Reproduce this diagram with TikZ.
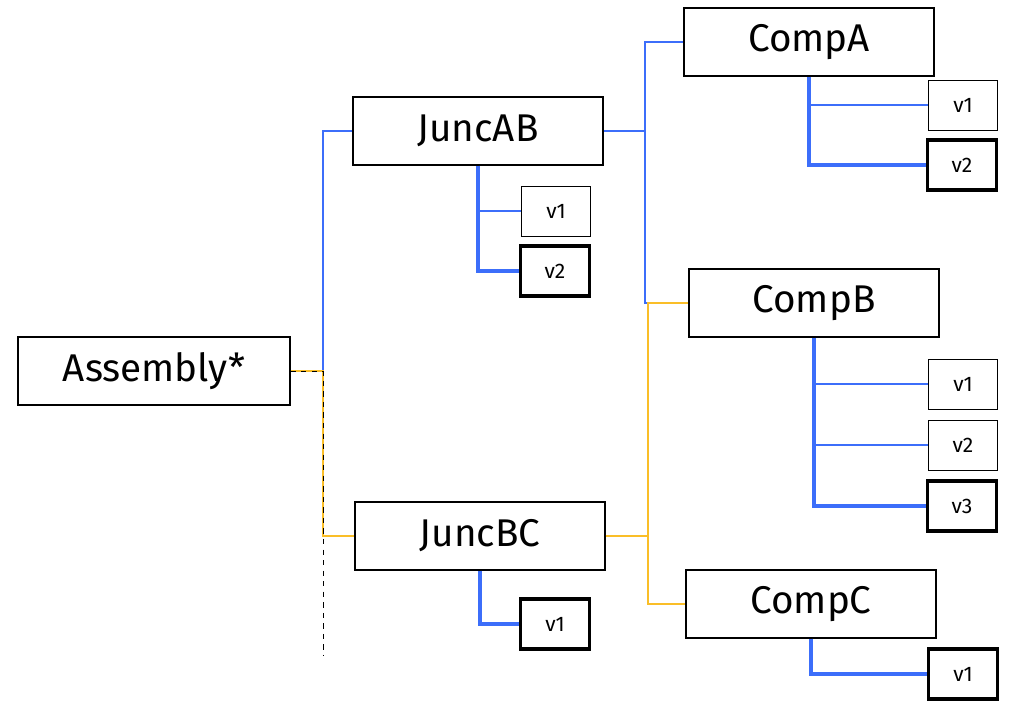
\documentclass[tikz,border=0pt]{standalone}
\usepackage{fontspec}
\setmainfont{Fira Sans}
\usetikzlibrary{positioning}
\definecolor{linkblue}{RGB}{60,110,250}
\definecolor{linkyellow}{RGB}{250,190,40}
\begin{document}
\begin{tikzpicture}[x=0.02cm,y=-0.02cm]

\tikzset{
    part/.style={
        draw,
        thick,
        minimum width=5cm,
        minimum height=1.36cm,
        font=\fontsize{22}{24}\selectfont,
    },
    ver/.style={
        draw,
        minimum width=1.38cm,
        minimum height=1cm,
        font=\fontsize{12}{14}\selectfont,
    },
    cur/.style={
        ver,
        line width=1.8pt,
    },
    blu/.style={draw=linkblue, line width=0.6pt},
    yel/.style={draw=linkyellow, line width=0.8pt},
    tree/.style={draw=linkblue, line width=2pt},
    leaf/.style={draw=linkblue, line width=0.6pt},
}

\useasboundingbox (0,0) rectangle (1024,711);

\node(asm) [part,minimum width=5.44cm] at (154,371) {Assembly*};
\node(jab) [part] at (478,131) {JuncAB};
\node(jbc) [part] at (480,536) {JuncBC};
\node(ca) [part] at (809,42) {CompA};
\node(cb) [part] at (814,303) {CompB};
\node(cc) [part] at (811,604) {CompC};

% version boxes
\node(jab1) [ver] at (556,211) {v1};
\node(jab2) [cur] at (555,271) {v2};
\node(jbc1) [cur] at (555,624) {v1};
\node(ca1) [ver] at (963,105) {v1};
\node(ca2) [cur] at (962,165) {v2};
\node(cb1) [ver] at (963,384) {v1};
\node(cb2) [ver] at (963,445) {v2};
\node(cb3) [cur] at (962,506) {v3};
\node(cc1) [cur] at (963,674) {v1};

% links between parts
\coordinate (asmx) at (323,371);
\coordinate (asmend) at (323,655);
\draw[blu] (asm.east) -- (asmx) -- (asmx |- jab.west) -- (jab.west);
\draw[yel, thick] (asm.east) -- (asmx) -- (asmx |- jbc.west) -- (jbc.west);
\draw[dashed] (asm.east) -- (asmx) -- (asmend);
\coordinate (jabx) at (645,131);
\draw[blu] (jab.east) -- (jabx) -- (jabx |- ca.west) -- (ca.west);
\draw[blu] (jabx) -- (jabx |- cb.west) -- (cb.west);
\coordinate (jbcx) at (648,536);
\draw[yel] (jbc.east) -- (jbcx) -- (jbcx |- cb.west) -- (cb.west);
\draw[yel] (jbcx) -- (jbcx |- cc.west) -- (cc.west);

% version trees
\draw[tree] (jab.south) |- (jab2.west);
\draw[leaf] (jab.south |- jab1.west) -- (jab1.west);
\draw[tree] (jbc.south) |- (jbc1.west);
\draw[tree] (ca.south) |- (ca2.west);
\draw[leaf] (ca.south |- ca1.west) -- (ca1.west);
\draw[tree] (cb.south) |- (cb3.west);
\draw[leaf] (cb.south |- cb1.west) -- (cb1.west);
\draw[leaf] (cb.south |- cb2.west) -- (cb2.west);
\draw[tree] (cc.south) |- (cc1.west);

\end{tikzpicture}
\end{document}
